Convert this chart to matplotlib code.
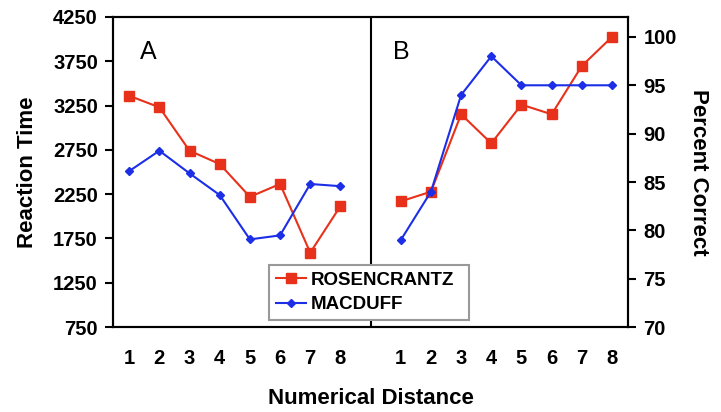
import matplotlib.pyplot as plt
import numpy as np

plt.rcParams['font.family'] = ['Liberation Sans', 'DejaVu Sans']

# Numerical distance categories
distance = [1, 2, 3, 4, 5, 6, 7, 8]

# Panel A: reaction time
rt_rosencrantz = [3360, 3230, 2740, 2590, 2220, 2365, 1590, 2115]
rt_macduff = [2510, 2740, 2485, 2240, 1740, 1785, 2365, 2340]

# Panel B: percent correct
pc_rosencrantz = [83, 84, 92, 89, 93, 92, 97, 100]
pc_macduff = [79, 84, 94, 98, 95, 95, 95, 95]

red = '#e8311a'
blue = '#1c2fe6'

# left panel at x = 1..8, right panel shifted by 9
x_a = np.array(distance)
x_b = np.array(distance) + 9

fig = plt.figure(figsize=(7.21, 4.12), dpi=100)
ax = fig.add_axes([0.157, 0.206, 0.714, 0.753])
ax2 = ax.twinx()

# panel A
ax.plot(x_a, rt_rosencrantz, color=red, marker='s', markersize=7, linewidth=1.5)
ax.plot(x_a, rt_macduff, color=blue, marker='D', markersize=4.5, linewidth=1.5)

# panel B
l1, = ax2.plot(x_b, pc_rosencrantz, color=red, marker='s', markersize=7, linewidth=1.5,
               label='ROSENCRANTZ')
l2, = ax2.plot(x_b, pc_macduff, color=blue, marker='D', markersize=4.5, linewidth=1.5,
               label='MACDUFF')

# divider between panels
ax.axvline(9, color='black', linewidth=1.5)

ax.set_xlim(0.47, 17.53)
ax.set_ylim(750, 4250)
ax.set_yticks(np.arange(750, 4251, 500))
ax2.set_ylim(70, 102.07)
ax2.set_yticks(np.arange(70, 101, 5))

ax.set_xticks(list(x_a) + list(x_b))
ax.set_xticklabels([str(d) for d in distance] * 2)
ax.tick_params(axis='x', length=0, pad=16, labelsize=14.5)
ax.tick_params(axis='y', direction='out', length=6, width=1.5, labelsize=14.5, pad=5)
ax2.tick_params(axis='y', direction='out', length=6, width=1.5, labelsize=14.5, pad=5)
for lab in ax.get_xticklabels() + ax.get_yticklabels() + ax2.get_yticklabels():
    lab.set_fontweight('bold')

for a in (ax, ax2):
    for s in a.spines.values():
        s.set_linewidth(1.5)

ax.set_ylabel('Reaction Time', fontsize=16, fontweight='bold', labelpad=11)
ax2.set_ylabel('Percent Correct', fontsize=16, fontweight='bold', rotation=270, labelpad=23)
ax.set_xlabel('Numerical Distance', fontsize=16, fontweight='bold', labelpad=14)

ax.text(0.052, 0.888, 'A', transform=ax.transAxes, fontsize=18, ha='left', va='center')
ax.text(0.544, 0.888, 'B', transform=ax.transAxes, fontsize=18, ha='left', va='center')

leg = ax2.legend(handles=[l1, l2], loc='lower left', bbox_to_anchor=(0.303, 0.023, 0.388, 0.177),
                 mode='expand', fancybox=False, framealpha=1, edgecolor='#999999',
                 prop={'weight': 'bold', 'size': 13.5}, handlelength=1.6, borderpad=0.35,
                 labelspacing=0.4, handletextpad=0.25, borderaxespad=0)
leg.get_frame().set_linewidth(1.5)

fig.savefig('out.png', dpi=100)
